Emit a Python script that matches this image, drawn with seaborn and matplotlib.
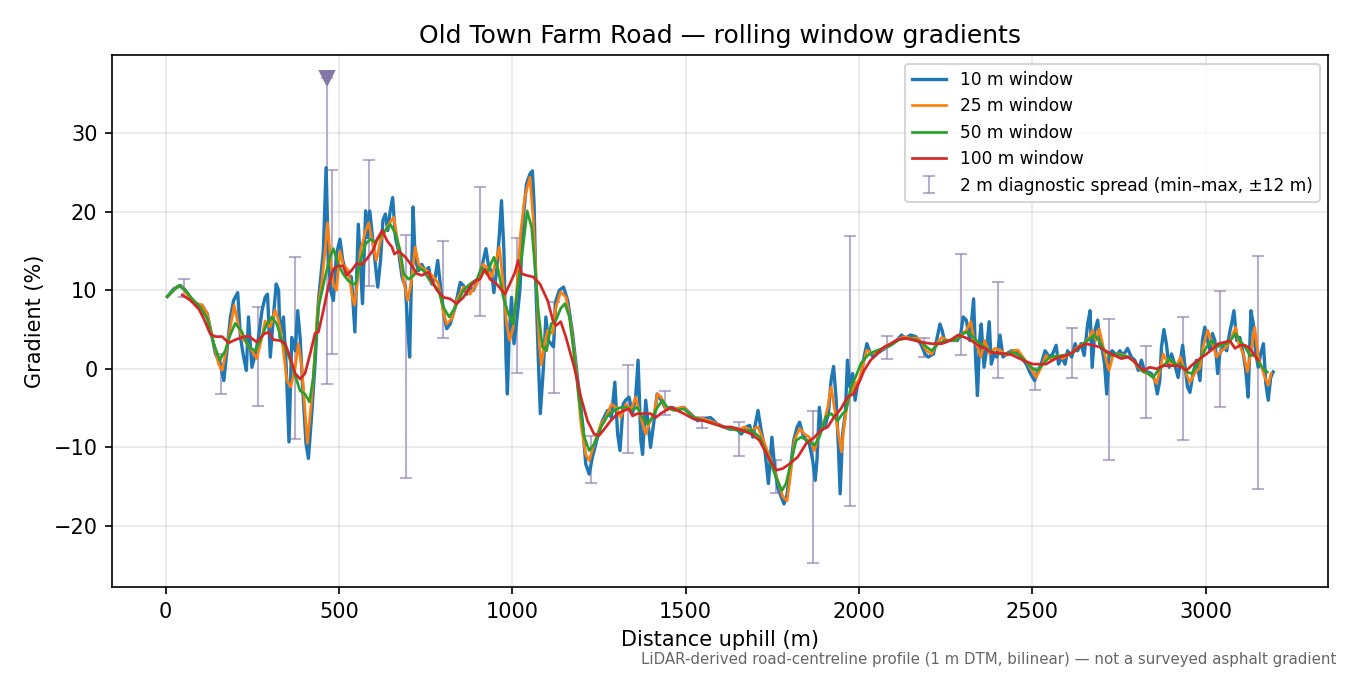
import numpy as np
import matplotlib
matplotlib.use("Agg")
import matplotlib.pyplot as plt
import seaborn as sns

# 10 m window (distance m, gradient %)
d10 = [5, 24, 43, 57, 72, 91, 105, 120, 134, 144,
       158, 168, 177, 187, 196, 208, 216, 225, 233, 239,
       249, 259, 268, 278, 287, 294, 302, 311, 319, 326,
       330, 340, 348, 356, 364, 374, 381, 388, 398, 405,
       412, 421, 431, 441, 455, 463, 469, 476, 484, 493,
       503, 511, 522, 536, 546, 556, 568, 577, 583, 589,
       596, 602, 612, 620, 627, 634, 641, 648, 655, 663,
       672, 682, 692, 698, 704, 709, 714, 720, 730, 739,
       749, 759, 768, 778, 785, 794, 804, 811, 821, 835,
       850, 859, 869, 878, 888, 898, 912, 924, 931, 941,
       947, 955, 963, 969, 976, 982, 986, 991, 998, 1005,
       1012, 1022, 1032, 1041, 1051, 1058, 1063, 1068, 1075, 1081,
       1090, 1097, 1104, 1112, 1119, 1126, 1136, 1148, 1160, 1174,
       1188, 1203, 1212, 1222, 1231, 1246, 1260, 1275, 1286, 1296,
       1304, 1311, 1320, 1327, 1337, 1347, 1356, 1363, 1371, 1376,
       1385, 1392, 1399, 1409, 1418, 1430, 1443, 1457, 1476, 1495,
       1514, 1534, 1553, 1572, 1591, 1610, 1629, 1647, 1661, 1675,
       1685, 1694, 1709, 1718, 1728, 1739, 1749, 1757, 1766, 1776,
       1784, 1793, 1803, 1812, 1822, 1829, 1838, 1848, 1857, 1867,
       1874, 1879, 1886, 1893, 1902, 1912, 1920, 1927, 1934, 1941,
       1946, 1953, 1961, 1967, 1974, 1982, 1989, 1996, 2006, 2015,
       2023, 2033, 2042, 2054, 2068, 2082, 2097, 2111, 2123, 2135,
       2149, 2164, 2178, 2191, 2200, 2215, 2224, 2234, 2240, 2248,
       2258, 2272, 2284, 2294, 2301, 2310, 2320, 2331, 2337, 2342,
       2349, 2353, 2361, 2368, 2376, 2382, 2390, 2398, 2407, 2416,
       2425, 2440, 2454, 2468, 2483, 2495, 2507, 2518, 2526, 2537,
       2550, 2559, 2569, 2576, 2585, 2595, 2602, 2614, 2624, 2631,
       2641, 2650, 2660, 2667, 2673, 2681, 2689, 2695, 2703, 2709,
       2715, 2722, 2731, 2743, 2753, 2762, 2775, 2786, 2796, 2806,
       2815, 2825, 2834, 2844, 2854, 2861, 2868, 2873, 2880, 2887,
       2895, 2902, 2911, 2921, 2928, 2934, 2940, 2948, 2955, 2964,
       2974, 2984, 2991, 2998, 3006, 3013, 3020, 3027, 3035, 3041,
       3051, 3061, 3070, 3075, 3082, 3090, 3099, 3109, 3116, 3123,
       3131, 3138, 3144, 3152, 3159, 3167, 3174, 3181, 3188, 3195]
g10 = [9.2, 10.2, 10.6, 10.0, 8.9, 8.1, 8.1, 7.0, 4.0, 1.9,
       0.6, -1.5, 2.3, 6.6, 8.7, 9.7, 4.0, 1.5, -0.2, 6.6,
       0.2, 1.9, 4.0, 7.4, 9.1, 9.5, 1.5, 6.6, 10.8, 10.0,
       4.0, 6.6, 0.2, -9.3, 4.0, 2.3, 7.4, 4.0, -4.4, -9.5,
       -11.4, -6.1, 0.6, 8.7, 15.0, 25.6, 15.0, 10.0, 8.7, 14.6,
       16.5, 13.8, 12.1, 11.7, 4.7, 18.4, 8.3, 20.1, 16.7, 20.1,
       17.2, 14.6, 10.4, 13.8, 18.9, 19.7, 17.6, 20.1, 21.8, 16.7,
       15.0, 11.7, 10.4, 5.7, 1.5, 10.8, 20.6, 13.8, 12.5, 13.3,
       12.5, 12.9, 10.8, 11.7, 13.8, 10.0, 6.6, 5.1, 5.7, 7.8,
       11.0, 10.6, 9.5, 10.4, 10.0, 11.0, 12.9, 15.3, 13.3, 12.1,
       9.7, 12.5, 17.2, 21.4, 15.0, 1.5, -3.2, 4.0, 9.1, 3.2,
       5.7, 10.0, 19.3, 23.5, 24.8, 25.2, 21.0, 10.8, 1.5, -5.7,
       0.2, 6.6, 3.6, 3.2, 2.8, 8.7, 10.0, 10.4, 8.7, 4.5,
       -1.1, -7.0, -12.1, -13.4, -11.3, -8.7, -6.6, -5.3, -6.2, -1.7,
       -8.3, -10.4, -4.5, -4.0, -3.6, -5.7, -3.6, 1.1, -9.1, -10.9,
       -4.0, -7.0, -10.0, -6.6, -3.2, -4.0, -5.1, -4.9, -5.1, -4.9,
       -5.7, -6.6, -6.4, -6.2, -7.0, -7.4, -7.7, -7.6, -8.3, -7.4,
       -7.2, -8.7, -5.3, -7.8, -10.0, -14.6, -8.7, -12.5, -15.1, -16.3,
       -17.2, -15.9, -12.5, -9.1, -7.4, -6.8, -8.3, -9.1, -9.5, -11.7,
       -14.2, -11.7, -4.9, -7.8, -7.4, -5.7, -1.4, 0.3, -3.6, -10.0,
       -15.9, -8.3, -5.7, 1.1, -2.3, -0.6, -4.0, -1.9, -1.0, 1.5,
       3.2, 2.0, 1.5, 2.0, 2.4, 2.8, 3.2, 3.7, 4.3, 3.9,
       4.3, 4.1, 3.2, 1.9, 1.5, 1.9, 3.6, 5.7, 4.9, 3.4,
       3.6, 3.6, 3.6, 4.5, 6.6, 6.2, 3.6, 8.9, 1.1, -3.4,
       4.0, 5.7, 0.2, 2.3, 6.0, 0.6, 1.9, 1.5, 4.3, 1.5,
       1.9, 2.3, 2.3, 1.5, 0.6, -0.6, -1.5, -0.2, 0.6, 2.3,
       1.5, 1.9, 3.0, 0.6, 1.5, 0.6, 2.3, 1.5, 3.2, 2.3,
       3.2, 1.7, 5.7, 7.4, 0.2, 4.9, 6.2, 3.2, 2.3, 0.5,
       -3.2, 1.9, 2.3, 1.7, 2.3, 1.7, 2.6, 1.5, 1.1, -0.2,
       1.1, -0.4, -0.4, -0.6, -1.5, -3.2, -1.5, 2.8, 5.0, 3.2,
       0.2, 1.9, 0.6, -1.1, 1.1, 3.0, 0.6, -2.3, -3.0, -0.6,
       1.1, -1.5, 3.6, 5.3, 3.6, 2.3, 4.5, 3.6, -0.6, 1.9,
       2.8, 2.3, 4.7, 5.7, 7.4, 3.6, 4.0, 1.9, -0.2, -3.6,
       7.4, 5.7, 2.3, 0.2, 1.9, 3.2, -1.9, -4.0, -1.1, -0.4]

# 25 m window
d25 = [5, 34, 48, 62, 81, 105, 120, 139, 153, 163,
       177, 187, 198, 211, 220, 235, 249, 263, 278, 287,
       302, 316, 326, 335, 350, 361, 374, 383, 393, 402,
       409, 419, 426, 438, 450, 460, 467, 476, 484, 493,
       503, 512, 527, 539, 545, 553, 562, 577, 586, 596,
       608, 620, 634, 647, 658, 668, 677, 687, 698, 708,
       720, 730, 739, 754, 773, 787, 802, 811, 826, 840,
       859, 878, 898, 915, 928, 941, 953, 963, 974, 984,
       993, 1003, 1012, 1024, 1036, 1051, 1060, 1070, 1078, 1084,
       1093, 1102, 1117, 1126, 1140, 1155, 1169, 1184, 1198, 1212,
       1222, 1236, 1256, 1270, 1286, 1299, 1313, 1328, 1342, 1356,
       1371, 1385, 1395, 1409, 1419, 1430, 1443, 1466, 1495, 1524,
       1553, 1581, 1610, 1639, 1651, 1670, 1690, 1709, 1728, 1747,
       1766, 1781, 1793, 1803, 1814, 1829, 1843, 1857, 1872, 1883,
       1896, 1910, 1920, 1929, 1941, 1950, 1958, 1967, 1977, 1989,
       2001, 2011, 2023, 2034, 2054, 2073, 2092, 2111, 2130, 2149,
       2169, 2181, 2195, 2210, 2224, 2239, 2258, 2277, 2294, 2310,
       2323, 2332, 2342, 2352, 2363, 2377, 2392, 2411, 2425, 2444,
       2459, 2473, 2488, 2502, 2511, 2526, 2540, 2557, 2574, 2588,
       2602, 2617, 2631, 2650, 2665, 2674, 2684, 2693, 2703, 2713,
       2722, 2733, 2748, 2767, 2786, 2806, 2820, 2834, 2849, 2859,
       2868, 2878, 2887, 2902, 2916, 2928, 2940, 2955, 2969, 2984,
       2993, 3006, 3017, 3032, 3046, 3061, 3075, 3087, 3096, 3109,
       3121, 3133, 3142, 3152, 3162, 3171, 3181, 3189]
g25 = [9.2, 10.5, 10.4, 9.5, 8.5, 8.1, 7.0, 3.2, 0.6, -0.2,
       2.8, 5.3, 8.1, 5.3, 4.0, 3.2, 2.3, 1.3, 4.0, 6.1,
       5.3, 7.5, 6.1, 4.0, -1.5, -2.3, 0.2, 3.2, 0.2, -5.3,
       -9.5, -4.9, -1.1, 7.4, 10.8, 15.0, 18.6, 13.8, 10.8, 10.0,
       15.0, 13.3, 12.5, 9.1, 8.1, 10.8, 15.0, 17.6, 18.6, 16.3,
       13.8, 16.3, 17.6, 18.6, 19.3, 16.7, 14.2, 11.2, 8.7, 10.8,
       15.5, 13.3, 12.9, 12.5, 11.7, 10.8, 7.0, 5.7, 6.4, 8.7,
       10.4, 9.5, 10.8, 13.3, 12.9, 11.7, 13.8, 15.5, 10.8, 5.7,
       3.6, 5.3, 9.5, 17.2, 21.8, 24.4, 19.3, 10.8, 3.2, 0.5,
       3.2, 4.9, 4.5, 7.9, 9.8, 9.1, 5.7, 0.2, -7.0, -10.9,
       -11.7, -9.6, -7.0, -6.2, -4.5, -4.9, -6.2, -4.5, -5.3, -3.6,
       -6.2, -8.3, -7.0, -5.7, -3.2, -3.6, -5.1, -5.1, -4.9, -6.2,
       -6.4, -6.8, -7.4, -7.7, -7.8, -7.4, -7.8, -7.4, -9.5, -11.7,
       -14.2, -16.3, -16.8, -13.4, -9.1, -7.6, -8.3, -8.7, -10.4, -8.7,
       -7.4, -4.9, -2.3, -4.9, -8.3, -10.6, -7.0, -4.4, -3.1, -1.9,
       -1.4, 0.3, 2.4, 2.0, 2.2, 2.6, 3.2, 3.7, 4.1, 3.9,
       3.9, 3.4, 2.3, 1.9, 3.2, 4.0, 3.6, 3.6, 4.3, 4.9,
       6.0, 3.6, 2.8, 1.5, 3.6, 1.9, 2.6, 2.3, 1.7, 2.3,
       2.4, 1.5, 0.6, -0.4, -1.1, 0.2, 1.7, 1.1, 1.7, 1.3,
       1.7, 2.1, 2.8, 3.2, 4.0, 4.9, 3.6, 5.1, 3.2, 1.1,
       -0.2, 1.7, 1.9, 1.7, 1.3, 0.2, -0.4, -0.6, -1.1, -1.9,
       -0.2, 1.9, 1.1, 0.6, 0.4, 1.5, -0.2, -1.7, -0.6, 0.2,
       2.8, 4.9, 3.6, 1.5, 2.3, 2.8, 4.0, 5.3, 3.2, 1.9,
       -0.4, 2.8, 5.3, 1.5, 0.2, -1.1, -2.1, -0.6]

# 50 m window
d50 = [5, 38, 57, 77, 101, 120, 139, 156, 172, 187,
       201, 220, 239, 259, 273, 292, 307, 321, 335, 350,
       369, 388, 402, 415, 426, 441, 460, 474, 484, 498,
       512, 527, 541, 548, 562, 577, 591, 605, 620, 634,
       648, 663, 677, 687, 701, 716, 730, 744, 763, 787,
       802, 818, 835, 859, 878, 898, 912, 926, 947, 960,
       974, 989, 1003, 1017, 1032, 1043, 1056, 1065, 1075, 1087,
       1099, 1112, 1126, 1140, 1152, 1165, 1179, 1193, 1208, 1222,
       1236, 1256, 1275, 1294, 1313, 1328, 1342, 1361, 1375, 1390,
       1404, 1419, 1433, 1447, 1466, 1495, 1524, 1553, 1581, 1610,
       1639, 1661, 1690, 1714, 1738, 1761, 1778, 1790, 1805, 1819,
       1833, 1852, 1872, 1886, 1905, 1920, 1939, 1953, 1963, 1977,
       1991, 2006, 2025, 2044, 2068, 2092, 2116, 2140, 2164, 2181,
       2195, 2210, 2229, 2248, 2267, 2286, 2301, 2315, 2330, 2349,
       2368, 2387, 2406, 2425, 2444, 2464, 2483, 2502, 2516, 2531,
       2550, 2569, 2588, 2607, 2626, 2646, 2660, 2679, 2693, 2708,
       2727, 2738, 2757, 2777, 2796, 2815, 2834, 2849, 2863, 2883,
       2897, 2911, 2931, 2945, 2960, 2974, 2988, 3003, 3017, 3032,
       3046, 3061, 3075, 3087, 3099, 3114, 3128, 3142, 3157, 3171,
       3178]
g50 = [9.2, 10.6, 10.0, 8.9, 7.8, 6.4, 3.2, 1.1, 2.3, 4.4,
       5.8, 4.7, 2.8, 2.3, 3.6, 5.7, 6.6, 5.7, 3.6, 2.3,
       -0.2, -2.8, -3.2, -4.2, -1.1, 7.8, 11.7, 14.2, 15.3, 13.3,
       12.1, 11.2, 10.8, 10.8, 13.8, 15.9, 16.5, 16.1, 16.9, 17.6,
       18.4, 17.2, 15.0, 12.1, 11.4, 11.9, 12.9, 12.5, 11.2, 10.0,
       7.8, 6.6, 7.8, 10.0, 10.8, 11.4, 12.9, 12.1, 14.2, 12.5,
       9.1, 7.0, 5.7, 10.8, 15.9, 20.1, 18.0, 13.3, 7.4, 2.8,
       2.3, 5.7, 6.2, 7.7, 8.3, 6.6, 1.5, -4.0, -8.7, -10.4,
       -9.6, -7.4, -6.0, -5.3, -4.9, -4.9, -5.3, -4.9, -6.2, -7.0,
       -6.2, -4.9, -4.0, -4.9, -5.3, -5.1, -6.2, -6.6, -7.0, -7.4,
       -7.7, -8.0, -7.8, -8.7, -11.2, -13.8, -15.5, -14.6, -11.7, -9.1,
       -8.7, -9.1, -9.7, -8.7, -6.1, -5.7, -6.6, -5.7, -5.3, -2.3,
       -1.0, 0.7, 1.7, 2.2, 2.6, 3.0, 3.7, 3.9, 3.7, 3.4,
       2.8, 2.3, 3.2, 3.6, 3.6, 3.8, 4.5, 4.7, 4.0, 3.2,
       2.6, 2.1, 1.9, 1.9, 2.1, 1.7, 0.9, 0.0, -0.2, 0.6,
       1.5, 1.6, 1.7, 1.9, 2.3, 3.2, 3.6, 4.3, 3.6, 2.3,
       1.7, 1.9, 1.7, 1.5, 0.9, -0.2, -0.6, -1.1, -0.2, 0.6,
       1.3, 0.6, 0.4, -0.4, -0.6, 0.4, 1.5, 2.8, 3.6, 2.8,
       3.0, 3.2, 3.8, 4.5, 3.6, 2.8, 1.7, 1.7, 0.6, -0.2,
       -0.4]

# 100 m window
d100 = [48, 72, 96, 110, 129, 144, 163, 182, 201, 220,
        239, 263, 283, 297, 311, 330, 345, 359, 374, 388,
        402, 417, 431, 441, 455, 469, 484, 498, 512, 522,
        536, 551, 567, 581, 601, 610, 625, 639, 653, 660,
        672, 692, 711, 725, 739, 759, 768, 783, 802, 821,
        840, 859, 878, 893, 907, 921, 936, 955, 979, 993,
        1008, 1017, 1027, 1041, 1060, 1080, 1102, 1117, 1126, 1140,
        1155, 1179, 1198, 1217, 1236, 1250, 1265, 1284, 1304, 1323,
        1337, 1347, 1361, 1380, 1399, 1414, 1428, 1443, 1459, 1476,
        1495, 1524, 1553, 1581, 1610, 1632, 1661, 1690, 1713, 1738,
        1761, 1780, 1800, 1824, 1848, 1872, 1891, 1910, 1929, 1948,
        1967, 1987, 2001, 2015, 2034, 2054, 2073, 2092, 2111, 2130,
        2154, 2178, 2210, 2239, 2262, 2286, 2306, 2325, 2344, 2363,
        2382, 2401, 2420, 2440, 2459, 2478, 2502, 2521, 2540, 2559,
        2579, 2598, 2617, 2636, 2655, 2674, 2693, 2719, 2738, 2757,
        2777, 2796, 2810, 2823, 2839, 2859, 2878, 2897, 2916, 2931,
        2945, 2964, 2984, 3003, 3022, 3037, 3056, 3070, 3085, 3099,
        3114, 3128, 3142, 3152]
g100 = [9.4, 8.7, 7.6, 6.4, 4.4, 4.1, 4.1, 3.3, 3.7, 4.0,
        4.2, 3.4, 4.4, 4.7, 3.7, 3.6, 3.2, 1.5, -0.6, -1.3,
        -0.6, 1.9, 4.5, 4.7, 7.4, 10.4, 12.7, 13.1, 13.1, 11.9,
        12.5, 13.4, 13.3, 14.0, 15.3, 16.5, 17.6, 16.3, 15.5, 14.6,
        15.0, 14.2, 13.1, 12.1, 11.9, 12.3, 11.2, 10.0, 9.1, 8.9,
        8.3, 9.1, 10.4, 11.2, 11.4, 12.7, 11.4, 10.8, 9.5, 10.8,
        12.3, 13.8, 12.1, 11.9, 11.7, 10.8, 8.7, 6.2, 5.5, 6.0,
        4.0, 0.2, -3.6, -6.6, -8.3, -8.5, -7.7, -6.6, -5.7, -5.3,
        -5.1, -6.0, -5.7, -5.7, -5.7, -6.2, -5.7, -5.3, -4.9, -5.3,
        -5.7, -6.4, -6.6, -7.0, -7.4, -7.4, -7.8, -8.3, -9.1, -11.2,
        -12.9, -12.7, -12.1, -11.2, -9.5, -8.7, -7.8, -7.4, -6.1, -5.1,
        -3.6, -3.1, -1.7, -0.2, 1.1, 2.0, 2.8, 3.2, 3.7, 3.9,
        3.7, 3.4, 3.2, 3.2, 3.6, 4.3, 4.0, 3.6, 3.0, 2.6,
        2.1, 2.0, 1.9, 1.8, 1.4, 1.0, 0.6, 0.6, 0.6, 1.1,
        1.5, 1.7, 2.1, 2.8, 3.2, 3.0, 2.8, 2.1, 1.7, 1.3,
        1.5, 0.9, 0.2, -0.2, 0.2, 0.0, 0.4, 0.4, 0.4, 0.2,
        -0.2, 0.6, 1.3, 1.9, 2.6, 3.2, 3.4, 3.6, 2.6, 3.0,
        3.0, 2.6, 1.7, 1.1]

# 2 m diagnostic spread stations (min / max over +-12 m)
spread_x = [53, 159, 266, 373, 480, 587, 693, 800, 907, 1014,
            1121, 1227, 1334, 1441, 1548, 1655, 1761, 1868, 1975, 2082,
            2189, 2295, 2402, 2509, 2616, 2723, 2829, 2936, 3043, 3150]
spread_min = [9.2, -3.2, -4.7, -8.9, 1.9, 10.6, -13.9, 3.9, 6.7, -0.5,
              -3.1, -14.5, -10.7, -5.9, -7.5, -11.1, -15.8, -24.7, -17.5, 1.3,
              1.5, 1.7, -1.2, -2.7, -1.2, -11.6, -6.2, -9.0, -4.9, -15.3]
spread_max = [11.4, 1.9, 7.9, 14.2, 25.3, 26.6, 17.0, 16.3, 23.1, 16.6,
              8.5, -8.6, 0.5, -2.8, -6.1, -6.8, -11.6, -5.4, 16.9, 4.2,
              3.9, 14.6, 11.0, 0.1, 5.2, 6.3, 2.9, 6.6, 9.9, 14.4]

# steepest-point spread, top clipped at the marker
peak_x = [466]
peak_min = [-1.9]
peak_max = [37.0]

series = [
    (d10, g10, "10 m window", "#1f77b4", 1.6),
    (d25, g25, "25 m window", "#ff7f0e", 1.3),
    (d50, g50, "50 m window", "#2ca02c", 1.3),
    (d100, g100, "100 m window", "#d62728", 1.3),
]
spread_label = "2 m diagnostic spread (min\u2013max, \u00b112 m)"

fig, ax = plt.subplots(figsize=(9, 4.5), dpi=150)
fig.subplots_adjust(left=0.083, right=0.984, top=0.918, bottom=0.13)

spread_col = "#8a7bb0"
lo = np.array(spread_min)
hi = np.array(spread_max)
mid = (lo + hi) / 2
ax.errorbar(spread_x, mid, yerr=[mid - lo, hi - mid], fmt="none", ecolor=spread_col,
            elinewidth=1.0, capsize=3, alpha=0.6, zorder=1, label=spread_label)
plo = np.array(peak_min)
phi = np.array(peak_max)
pmid = (plo + phi) / 2
ax.errorbar(peak_x, pmid, yerr=[pmid - plo, phi - pmid], fmt="none", ecolor=spread_col,
            elinewidth=1.0, capsize=3, alpha=0.6, zorder=1)
ax.plot(peak_x, peak_max, marker="v", markersize=7, color="#8577a8", linestyle="none", zorder=5)

for d, g, lab, col, lw in series:
    sns.lineplot(x=d, y=g, ax=ax, color=col, linewidth=lw, label=lab, zorder=3)

ax.set_ylim(-27.8, 39.9)
ax.grid(True, alpha=0.3)
ax.set_xlabel("Distance uphill (m)")
ax.set_ylabel("Gradient (%)")
ax.set_title("Old Town Farm Road \u2014 rolling window gradients", fontsize=12)

handles, labels = ax.get_legend_handles_labels()
order = [labels.index(s[2]) for s in series] + [labels.index(spread_label)]
ax.legend([handles[i] for i in order], [labels[i] for i in order], loc="upper right", fontsize=8.2)

fig.text(0.99, 0.012,
         "LiDAR-derived road-centreline profile (1 m DTM, bilinear) \u2014 not a surveyed asphalt gradient",
         ha="right", va="bottom", fontsize=7.2, color="#666666")

fig.savefig("out.png", dpi=150)
